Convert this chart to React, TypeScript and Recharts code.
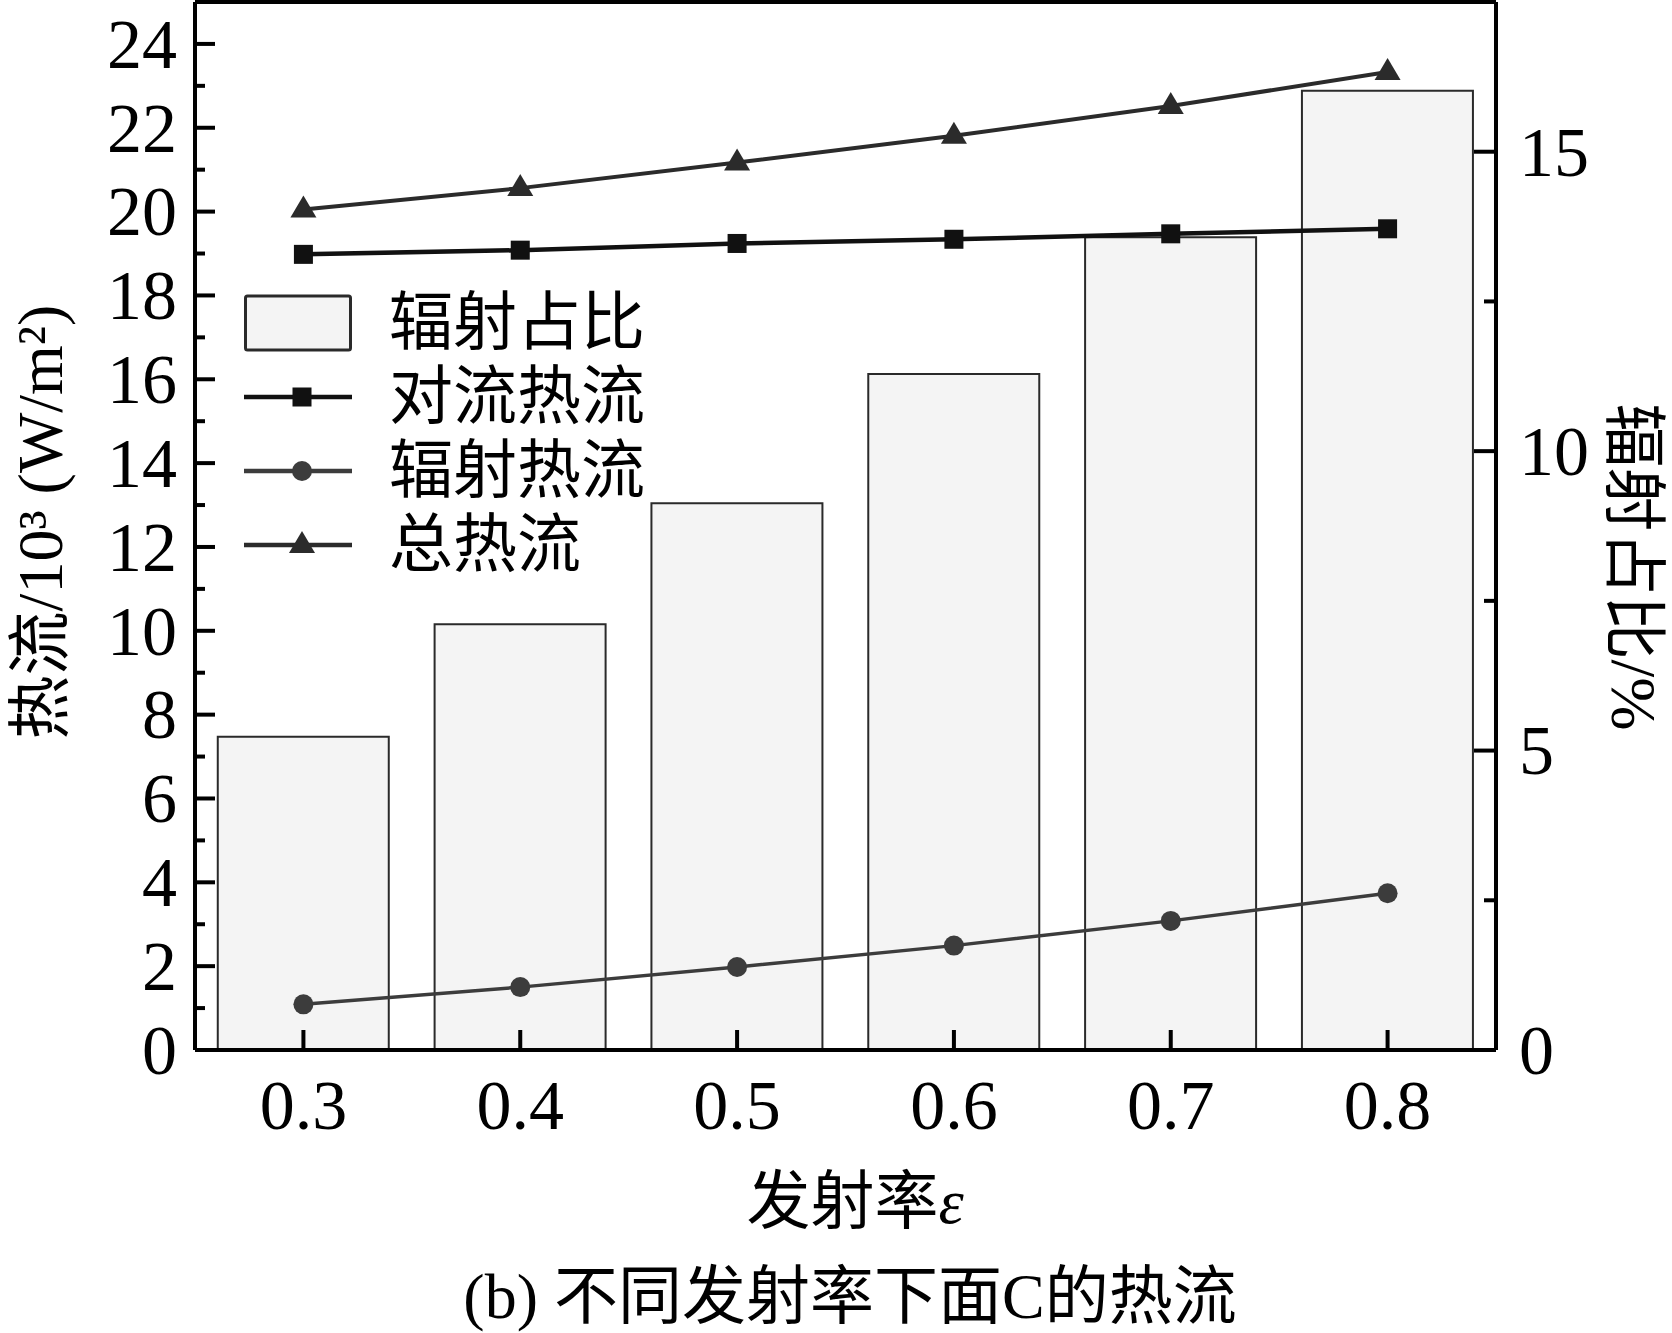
import { ComposedChart, Bar, Line, XAxis, YAxis, Legend, Label, ReferenceLine } from "recharts";

// emissivity categories
const emissivity = ["0.3", "0.4", "0.5", "0.6", "0.7", "0.8"];
// heat flux, 10^3 W/m^2
const convective = [18.98, 19.08, 19.24, 19.34, 19.47, 19.59];
const radiative = [1.09, 1.5, 1.98, 2.49, 3.08, 3.74];
const total = [20.05, 20.56, 21.17, 21.81, 22.52, 23.33];
// radiation share, %
const radShare = [5.23, 7.11, 9.13, 11.29, 13.57, 16.02];

const leftTicks = [0, 1, 2, 3, 4, 5, 6, 7, 8, 9, 10, 11, 12, 13, 14, 15, 16, 17, 18, 19, 20, 21, 22, 23, 24];
const rightTicks = [0, 2.5, 5, 7.5, 10, 12.5, 15];
const legendOrder = ["share", "conv", "rad", "total"];

const data = emissivity.map((e, i) => ({
  e,
  share: radShare[i],
  conv: convective[i],
  rad: radiative[i],
  total: total[i],
}));

const W = 1672;
const H = 1333;
const PLOT_L = 195;
const PLOT_R = 1496;
const PLOT_T = 2;
const PLOT_B = 1050;
const FONT = "'Liberation Serif', 'Noto Sans CJK SC', serif";

const LeftTick = (props: any) => {
  const { y, payload } = props;
  const major = payload.value % 2 === 0;
  return (
    <g>
      <line x1={PLOT_L} x2={PLOT_L + (major ? 20 : 10)} y1={y} y2={y} stroke="#000" strokeWidth={4} />
      {major && (
        <text x={177} y={y} dy="0.34em" textAnchor="end" fontSize={70} fontFamily={FONT} fill="#000">
          {payload.value}
        </text>
      )}
    </g>
  );
};

const RightTick = (props: any) => {
  const { y, payload } = props;
  const major = payload.value % 5 === 0;
  return (
    <g>
      <line x1={PLOT_R} x2={PLOT_R - (major ? 22 : 12)} y1={y} y2={y} stroke="#000" strokeWidth={4} />
      {major && (
        <text x={1519} y={y} dy="0.34em" textAnchor="start" fontSize={70} fontFamily={FONT} fill="#000">
          {payload.value}
        </text>
      )}
    </g>
  );
};

const BottomTick = (props: any) => {
  const { x, payload } = props;
  return (
    <g>
      <line x1={x} x2={x} y1={PLOT_B} y2={PLOT_B - 20} stroke="#000" strokeWidth={4} />
      <text x={x} y={1129} textAnchor="middle" fontSize={70} fontFamily={FONT} fill="#000">
        {payload.value}
      </text>
    </g>
  );
};

const SquareDot = (props: any) => {
  const { cx, cy, index } = props;
  return <rect key={`sq-${index}`} x={cx - 9.5} y={cy - 9.5} width={19} height={19} fill="#111" />;
};

const TriangleDot = (props: any) => {
  const { cx, cy, index } = props;
  return (
    <path
      key={`tr-${index}`}
      d={`M${cx},${cy - 14} L${cx + 13},${cy + 8} L${cx - 13},${cy + 8} Z`}
      fill="#2b2b2b"
    />
  );
};

const LegendIcon = ({ k }: { k: string }) => {
  if (k === "share") {
    return (
      <svg width={108} height={74}>
        <rect x={1.5} y={10} width={105} height={54} fill="#f4f4f4" stroke="#2a2a2a" strokeWidth={3} rx={2} />
      </svg>
    );
  }
  const color = k === "conv" ? "#111" : k === "rad" ? "#3c3c3c" : "#2b2b2b";
  return (
    <svg width={108} height={74}>
      <line x1={0} x2={108} y1={37} y2={37} stroke={color} strokeWidth={4.5} strokeLinecap="round" />
      {k === "conv" && <rect x={48.5} y={27.5} width={19} height={19} fill={color} />}
      {k === "rad" && <circle cx={58} cy={37} r={10} fill={color} />}
      {k === "total" && <path d="M58,23 L71,45 L45,45 Z" fill={color} />}
    </svg>
  );
};

const LegendContent = (props: any) => {
  const items = [...(props.payload || [])].sort(
    (a: any, b: any) => legendOrder.indexOf(a.dataKey) - legendOrder.indexOf(b.dataKey)
  );
  return (
    <div>
      {items.map((it: any) => (
        <div key={it.dataKey} style={{ display: "flex", alignItems: "center", height: 74 }}>
          <LegendIcon k={it.dataKey} />
          <span style={{ marginLeft: 37, fontSize: 64, lineHeight: "74px", fontFamily: FONT, color: "#000" }}>
            {it.value}
          </span>
        </div>
      ))}
    </div>
  );
};

export default function App() {
  return (
    <div style={{ position: "absolute", left: 0, top: 0, width: W, height: H, background: "#fff" }}>
      <ComposedChart
        width={W}
        height={H}
        data={data}
        margin={{ top: PLOT_T, right: 0, left: 0, bottom: 0 }}
        barCategoryGap="10.5%"
      >
        <XAxis
          dataKey="e"
          height={H - PLOT_B}
          axisLine={{ stroke: "#000", strokeWidth: 4 }}
          tickLine={false}
          tick={<BottomTick />}
          interval={0}
        >
          <Label
            content={() => (
              <g>
                <text x={855} y={1223} textAnchor="middle" fontSize={64} fontFamily={FONT} fill="#000">
                  发射率<tspan fontStyle="italic">ε</tspan>
                </text>
                <text x={850} y={1318} textAnchor="middle" fontSize={64} fontFamily={FONT} fill="#000">
                  (b) 不同发射率下面C的热流
                </text>
              </g>
            )}
          />
        </XAxis>
        <YAxis
          yAxisId="left"
          orientation="left"
          width={PLOT_L}
          domain={[0, 25]}
          ticks={leftTicks}
          interval={0}
          axisLine={{ stroke: "#000", strokeWidth: 4 }}
          tickLine={false}
          tick={<LeftTick />}
        >
          <Label
            content={() => (
              <text
                x={40}
                y={522}
                transform="rotate(-90, 40, 522)"
                textAnchor="middle"
                dy="0.35em"
                fontSize={64}
                fontFamily={FONT}
                fill="#000"
              >
                热流/10³ (W/m²)
              </text>
            )}
          />
        </YAxis>
        <YAxis
          yAxisId="right"
          orientation="right"
          width={W - PLOT_R}
          domain={[0, 17.5]}
          ticks={rightTicks}
          interval={0}
          axisLine={{ stroke: "#000", strokeWidth: 4 }}
          tickLine={false}
          tick={<RightTick />}
        >
          <Label
            content={() => (
              <text
                x={1634}
                y={567}
                transform="rotate(90, 1634, 567)"
                textAnchor="middle"
                dy="0.35em"
                fontSize={64}
                fontFamily={FONT}
                fill="#000"
              >
                辐射占比/%
              </text>
            )}
          />
        </YAxis>
        <ReferenceLine yAxisId="left" y={25} stroke="#000" strokeWidth={4} />
        <Legend
          layout="vertical"
          align="center"
          verticalAlign="middle"
          content={<LegendContent />}
          wrapperStyle={{ position: "absolute", left: 244, top: 286, width: 420, height: 296 }}
        />
        <Bar
          yAxisId="right"
          dataKey="share"
          name="辐射占比"
          fill="#f4f4f4"
          stroke="#2a2a2a"
          strokeWidth={2}
          isAnimationActive={false}
        />
        <Line
          yAxisId="left"
          dataKey="conv"
          name="对流热流"
          stroke="#111"
          strokeWidth={4.5}
          dot={<SquareDot />}
          activeDot={false}
          isAnimationActive={false}
        />
        <Line
          yAxisId="left"
          dataKey="rad"
          name="辐射热流"
          stroke="#3c3c3c"
          strokeWidth={3.5}
          dot={{ r: 10, fill: "#3c3c3c", stroke: "none" }}
          activeDot={false}
          isAnimationActive={false}
        />
        <Line
          yAxisId="left"
          dataKey="total"
          name="总热流"
          stroke="#2b2b2b"
          strokeWidth={4}
          dot={<TriangleDot />}
          activeDot={false}
          isAnimationActive={false}
        />
      </ComposedChart>
    </div>
  );
}
